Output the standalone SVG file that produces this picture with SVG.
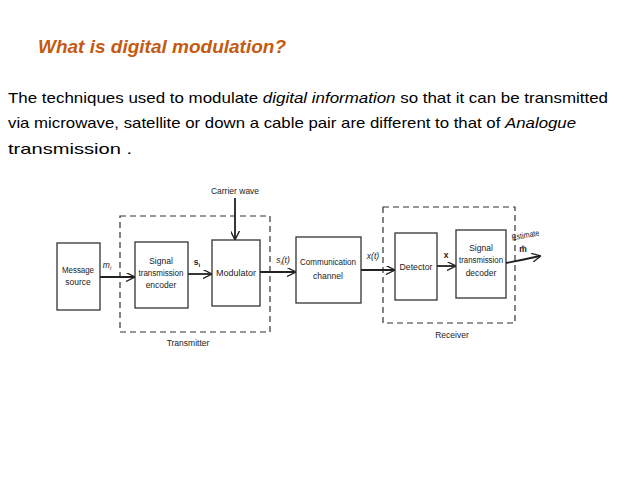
<svg xmlns="http://www.w3.org/2000/svg" width="638" height="479" viewBox="0 0 638 479">
<defs>
<marker id="ar" viewBox="0 0 10 10" refX="9" refY="5" markerWidth="9" markerHeight="9" markerUnits="userSpaceOnUse" orient="auto"><path d="M0,0 L10,5 L0,10" fill="none" stroke="#222" stroke-width="1.5"/></marker>
</defs>
<style>
.t{font-family:"Liberation Sans",Arial,sans-serif;font-size:15px;fill:#000}
.b{fill:#fff;stroke:#333;stroke-width:1.3}
.d{fill:none;stroke:#333;stroke-width:1.2;stroke-dasharray:6,4}
.l{font-family:"Liberation Sans Narrow","Liberation Sans",Arial,sans-serif;font-size:8.5px;fill:#222;text-anchor:middle}
.c{stroke:#222;stroke-width:1.8;fill:none;marker-end:url(#ar)}
</style>
<rect width="638" height="479" fill="#fff"/>
<text x="38" y="53" style="font-family:'Liberation Sans',Arial,sans-serif;font-size:18px;font-weight:bold;font-style:italic;fill:#C55A11" textLength="248" lengthAdjust="spacingAndGlyphs">What is digital modulation?</text>
<text class="t" x="8" y="103" textLength="600" lengthAdjust="spacingAndGlyphs">The techniques used to modulate <tspan font-style="italic">digital information</tspan> so that it can be transmitted</text>
<text class="t" x="8" y="128" textLength="568" lengthAdjust="spacingAndGlyphs">via microwave, satellite or down a cable pair are different to that of <tspan font-style="italic">Analogue</tspan></text>
<text class="t" x="8" y="154" textLength="124" lengthAdjust="spacingAndGlyphs">transmission .</text>
<rect class="d" x="120" y="216" width="150" height="116"/>
<rect class="d" x="383" y="207" width="132" height="116"/>
<text class="l" x="188" y="346">Transmitter</text>
<text class="l" x="452" y="338">Receiver</text>
<g id="src"><rect class="b" x="57" y="243" width="43" height="67"/><text class="l" x="78" y="273" textLength="32" lengthAdjust="spacingAndGlyphs">Message</text><text class="l" x="78" y="285">source</text></g>
<g id="enc"><rect class="b" x="135" y="242" width="53" height="66"/><text class="l" x="161" y="264">Signal</text><text class="l" x="161" y="276" textLength="45" lengthAdjust="spacingAndGlyphs">transmission</text><text class="l" x="161" y="288">encoder</text></g>
<g id="mod"><rect class="b" x="212" y="240" width="48" height="66"/><text class="l" x="236" y="276" textLength="40" lengthAdjust="spacingAndGlyphs">Modulator</text></g>
<g id="ch"><rect class="b" x="296" y="237" width="65" height="66"/><text class="l" x="328" y="265" textLength="56" lengthAdjust="spacingAndGlyphs">Communication</text><text class="l" x="328" y="279">channel</text></g>
<g id="det"><rect class="b" x="395" y="233" width="42" height="67"/><text class="l" x="416" y="270" textLength="33" lengthAdjust="spacingAndGlyphs">Detector</text></g>
<g id="dec"><rect class="b" x="456" y="230" width="50" height="68"/><text class="l" x="481" y="251">Signal</text><text class="l" x="481" y="263" textLength="44" lengthAdjust="spacingAndGlyphs">transmission</text><text class="l" x="481" y="276">decoder</text></g>
<text class="l" x="235" y="194">Carrier wave</text>
<g id="connectors">
<line class="c" x1="235" y1="198" x2="235" y2="239"/>
<line class="c" x1="100" y1="277" x2="134" y2="277"/>
<line class="c" x1="188" y1="274" x2="211" y2="274"/>
<line class="c" x1="260" y1="272" x2="295" y2="272"/>
<line class="c" x1="361" y1="270" x2="394" y2="270"/>
<line class="c" x1="437" y1="266" x2="455" y2="266"/>
<path class="c" d="M506,263 Q522,260 540,256"/>
</g>
<text class="l" x="107" y="268" font-style="italic">m<tspan font-size="6" dy="2">i</tspan></text>
<text class="l" x="197" y="265" font-weight="bold">s<tspan font-size="6" dy="2">i</tspan></text>
<text class="l" x="283" y="263" font-style="italic">s<tspan font-size="6" dy="2">i</tspan><tspan dy="-2">(t)</tspan></text>
<text class="l" x="373" y="259" font-style="italic">x(t)</text>
<text class="l" x="446" y="258" font-weight="bold">x</text>
<text class="l" x="526" y="238" transform="rotate(-10 526 238)" font-size="7.5" textLength="28" lengthAdjust="spacingAndGlyphs">Estimate</text>
<text class="l" x="523" y="252" font-weight="bold">m̂</text>
</svg>
